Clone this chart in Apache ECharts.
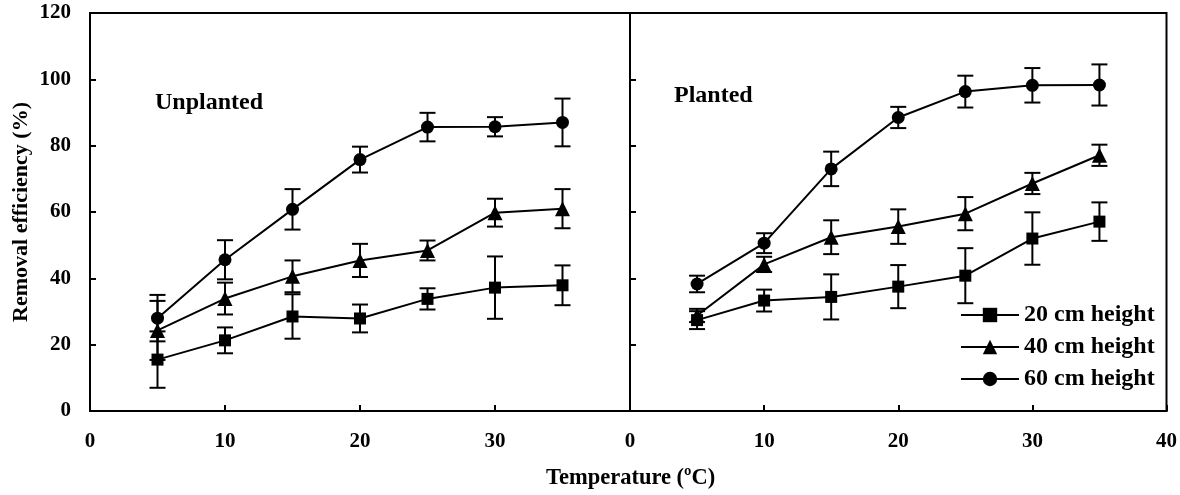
<!DOCTYPE html>
<html>
<head>
<meta charset="utf-8">
<script src="https://cdn.jsdelivr.net/npm/echarts@6/dist/echarts.min.js"></script>
<style>
  html, body { margin: 0; padding: 0; background: #fff; }
  #chart { width: 1180px; height: 495px; }
</style>
</head>
<body>
<div id="chart"></div>
<script>
// temperature (ºC)
const temps = [5, 10, 15, 20, 25, 30, 35]

// Unplanted
const un20 = [15.5, 21.3, 28.5, 27.9, 33.8, 37.2, 37.9]
const un20Err = [8.5, 3.9, 6.7, 4.2, 3.2, 9.4, 6.0]
const un40 = [24.3, 33.9, 40.6, 45.4, 48.4, 59.8, 61.0]
const un40Err = [8.9, 4.8, 4.8, 5.0, 3.0, 4.2, 5.9]
const un60 = [28.0, 45.6, 60.8, 75.8, 85.6, 85.7, 87.0]
const un60Err = [7.0, 5.9, 6.1, 3.9, 4.3, 2.9, 7.2]

// Planted
const pl20 = [27.4, 33.3, 34.4, 37.5, 40.8, 52.0, 57.1]
const pl20Err = [2.7, 3.3, 6.8, 6.5, 8.3, 7.9, 5.8]
const pl40 = [28.8, 44.2, 52.4, 55.6, 59.5, 68.6, 77.1]
const pl40Err = [2.0, 2.3, 5.1, 5.2, 5.0, 3.2, 3.2]
const pl60 = [38.3, 50.6, 73.0, 88.5, 96.3, 98.2, 98.3]
const pl60Err = [2.5, 3.0, 5.2, 3.2, 4.8, 5.2, 6.2]

const names = ['20 cm height', '40 cm height', '60 cm height']
const symbols = ['rect', 'triangle', 'circle']
const symbolSizes = [12, 15, 13]

const font = 'Liberation Serif'

const chart = echarts.init(document.getElementById('chart'))

function pairs(ys) {
    return temps.map((t, i) => [t, ys[i]])
}
function bars(ys, errs) {
    return temps.map((t, i) => [t, ys[i] - errs[i], ys[i] + errs[i]])
}

function errorBar(params, api) {
    const x = api.value(0)
    const top = api.coord([x, api.value(2)])
    const bot = api.coord([x, api.value(1)])
    const w = 8
    const style = { stroke: '#000', lineWidth: 2 }
    return {
        type: 'group',
        children: [
            { type: 'line', shape: { x1: top[0], y1: top[1], x2: bot[0], y2: bot[1] }, style },
            { type: 'line', shape: { x1: top[0] - w, y1: top[1], x2: top[0] + w, y2: top[1] }, style },
            { type: 'line', shape: { x1: bot[0] - w, y1: bot[1], x2: bot[0] + w, y2: bot[1] }, style }
        ]
    }
}

const panels = [
    { vals: [un20, un40, un60], errs: [un20Err, un40Err, un60Err] },
    { vals: [pl20, pl40, pl60], errs: [pl20Err, pl40Err, pl60Err] }
]

const series = []
panels.forEach((p, gi) => {
    p.vals.forEach((v, k) => {
        series.push({
            type: 'custom',
            xAxisIndex: gi,
            yAxisIndex: gi,
            renderItem: errorBar,
            encode: { x: 0, y: [1, 2] },
            data: bars(v, p.errs[k]),
            z: 1,
            silent: true
        })
        series.push({
            type: 'line',
            name: names[k],
            xAxisIndex: gi,
            yAxisIndex: gi,
            data: pairs(v),
            symbol: symbols[k],
            symbolSize: symbolSizes[k],
            showAllSymbol: true,
            lineStyle: { color: '#000', width: 2 },
            itemStyle: { color: '#000', borderWidth: 0 },
            z: 3
        })
    })
})

const axisLabel = { color: '#000', fontFamily: font, fontWeight: 'bold', fontSize: 21 }

const option = {
    animation: false,
    grid: [
        { left: 90, right: 550, top: 13, bottom: 84, show: true, borderColor: '#000', borderWidth: 2 },
        { left: 630, right: 10, top: 13, bottom: 84, show: true, borderColor: '#000', borderWidth: 2 }
    ],
    xAxis: [
        {
            gridIndex: 0, type: 'value', min: 0, max: 40, interval: 10,
            splitLine: { show: false },
            axisLine: { lineStyle: { color: '#000', width: 2 } },
            axisTick: { inside: true, length: 6, lineStyle: { color: '#000', width: 2 } },
            axisLabel: { ...axisLabel, margin: 20, showMaxLabel: false }
        },
        {
            gridIndex: 1, type: 'value', min: 0, max: 40, interval: 10,
            splitLine: { show: false },
            axisLine: { lineStyle: { color: '#000', width: 2 } },
            axisTick: { inside: true, length: 6, lineStyle: { color: '#000', width: 2 } },
            axisLabel: { ...axisLabel, margin: 20 }
        }
    ],
    yAxis: [
        {
            gridIndex: 0, type: 'value', min: 0, max: 120, interval: 20,
            splitLine: { show: false },
            axisLine: { show: true, lineStyle: { color: '#000', width: 2 } },
            axisTick: { show: true, inside: true, length: 6, lineStyle: { color: '#000', width: 2 } },
            axisLabel: { ...axisLabel, margin: 19 },
            name: 'Removal efficiency (%)',
            nameLocation: 'middle',
            nameGap: 58,
            nameTextStyle: { color: '#000', fontFamily: font, fontWeight: 'bold', fontSize: 22 }
        },
        {
            gridIndex: 1, type: 'value', min: 0, max: 120, interval: 20,
            splitLine: { show: false },
            axisLine: { show: true, lineStyle: { color: '#000', width: 2 } },
            axisTick: { show: true, inside: true, length: 6, lineStyle: { color: '#000', width: 2 } },
            axisLabel: { show: false }
        }
    ],
    legend: {
        data: names,
        orient: 'vertical',
        left: 955,
        top: 298,
        itemWidth: 58,
        itemHeight: 18,
        itemGap: 8,
        textStyle: { color: '#000', fontFamily: font, fontWeight: 'bold', fontSize: 24, lineHeight: 24 }
    },
    graphic: [
        {
            type: 'text', left: 155, top: 91,
            style: { text: 'Unplanted', fill: '#000', font: 'bold 24px "Liberation Serif"' }
        },
        {
            type: 'text', left: 674, top: 84,
            style: { text: 'Planted', fill: '#000', font: 'bold 24px "Liberation Serif"' }
        },
        {
            type: 'text', left: 546, top: 467,
            style: { text: 'Temperature (ºC)', fill: '#000', font: 'bold 22.5px "Liberation Serif"' }
        }
    ],
    series
}

chart.setOption(option)
</script>
</body>
</html>
